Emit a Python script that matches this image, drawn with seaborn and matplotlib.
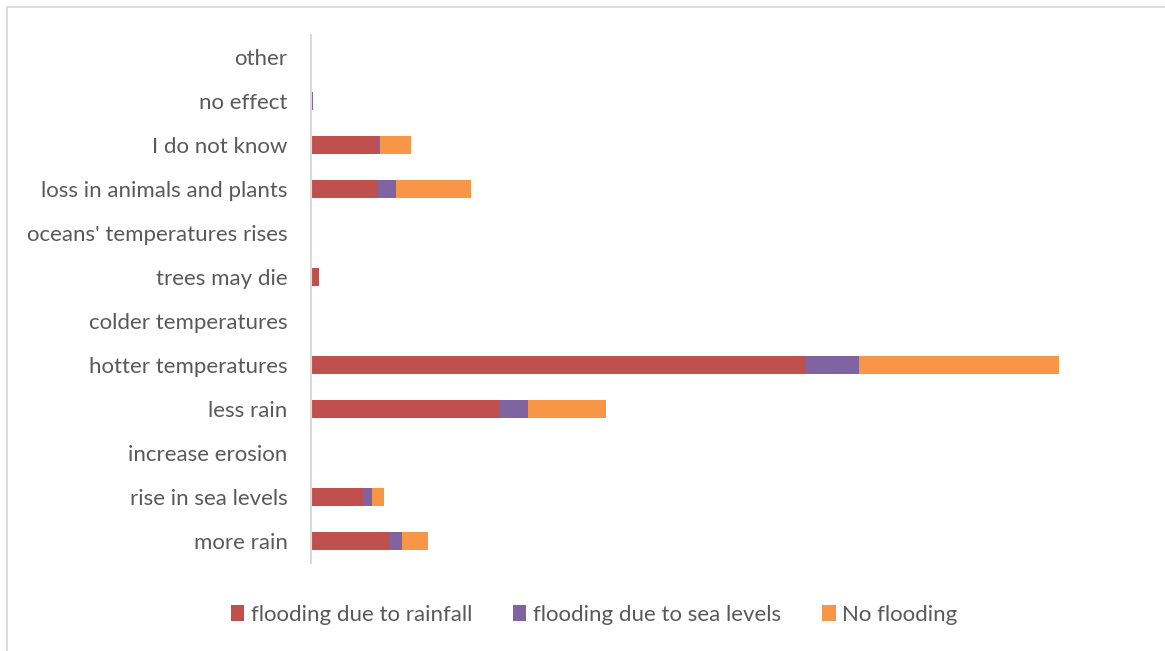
import matplotlib.pyplot as plt
import numpy as np
import pandas as pd
import seaborn as sns
from matplotlib.lines import Line2D
from matplotlib.patches import Patch

categories = ["other", "no effect", "I do not know", "loss in animals and plants",
              "oceans' temperatures rises", "trees may die", "colder temperatures",
              "hotter temperatures", "less rain", "increase erosion",
              "rise in sea levels", "more rain"]
rainfall = [0, 0, 6.7, 6.7, 0, 0.8, 0, 49.5, 18.9, 0, 5.2, 7.8]
sea_levels = [0, 0.15, 0.2, 1.8, 0, 0, 0, 5.3, 2.8, 0, 0.9, 1.3]
no_flooding = [0, 0, 3.1, 7.5, 0, 0, 0, 20.0, 7.8, 0, 1.2, 2.6]

series = ["flooding due to rainfall", "flooding due to sea levels", "No flooding"]
colors = ["#C0504D", "#8064A2", "#F79646"]

df = pd.DataFrame({"category": categories, "rain": rainfall,
                   "sea": sea_levels, "none": no_flooding})
df["c1"] = df["rain"]
df["c2"] = df["rain"] + df["sea"]
df["c3"] = df["c2"] + df["none"]

sns.set_style("white")
plt.rcParams["font.family"] = ["Lato", "DejaVu Sans"]

fig = plt.figure(figsize=(11.65, 6.51), dpi=100)
ax = fig.add_axes([311 / 1165, 1 - 563 / 651, (1140 - 311) / 1165, 528 / 651])

# stacked bars: draw cumulative totals back to front
for col, color in zip(["c3", "c2", "c1"], colors[::-1]):
    sns.barplot(data=df, x=col, y="category", order=categories, color=color,
                width=0.41, saturation=1, orient="h", ax=ax, linewidth=0)

ax.set_xlim(0, 82.9)
ax.set_ylim(len(categories) - 0.5, -0.5)
ax.set_xlabel("")
ax.set_ylabel("")
ax.set_xticks([])
for s in ["top", "right", "bottom"]:
    ax.spines[s].set_visible(False)
ax.spines["left"].set_color("#D9D9D9")
ax.spines["left"].set_linewidth(1.5)
ax.tick_params(axis="y", length=0, pad=17, labelsize=16, labelcolor="#595959")

handles = [Patch(facecolor=c, edgecolor="none") for c in colors]
fig.legend(handles, series, loc="center", bbox_to_anchor=(594 / 1165, 1 - 615 / 651),
           ncol=3, frameon=False, fontsize=16, labelcolor="#595959",
           handlelength=0.6, handleheight=0.75, handletextpad=0.3, columnspacing=1.85)

# outer chart border
fig.add_artist(Line2D([7 / 1165, 7 / 1165, 1.0], [0.0, 1 - 7 / 651, 1 - 7 / 651],
                      transform=fig.transFigure, color="#D9D9D9", linewidth=1.2))

fig.savefig("out.png", dpi=100)
